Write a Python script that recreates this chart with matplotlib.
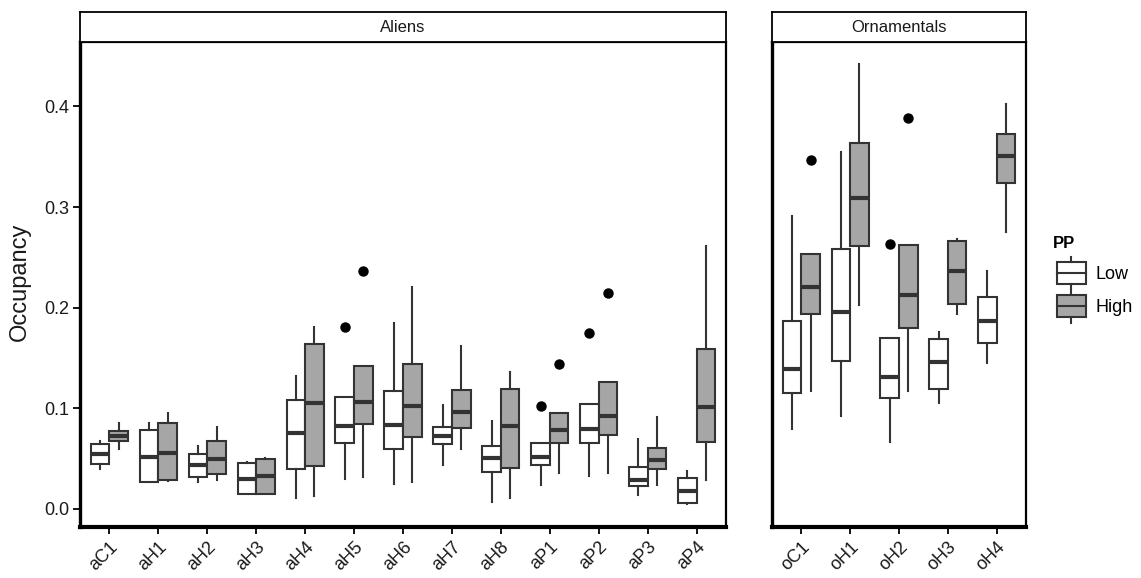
import matplotlib
matplotlib.use("Agg")
import matplotlib.pyplot as plt
from matplotlib.patches import Rectangle, Patch
from matplotlib.lines import Line2D
from matplotlib.legend_handler import HandlerBase

plt.rcParams['font.family'] = ['Liberation Sans', 'DejaVu Sans']

# sites in each facet
alien_sites = ['aC1', 'aH1', 'aH2', 'aH3', 'aH4', 'aH5', 'aH6',
               'aH7', 'aH8', 'aP1', 'aP2', 'aP3', 'aP4']
orn_sites = ['oC1', 'oH1', 'oH2', 'oH3', 'oH4']

# box summaries: (whisker low, q1, median, q3, whisker high)
alien_low = [
    (0.040, 0.045, 0.055, 0.064, 0.067),
    (0.027, 0.027, 0.052, 0.078, 0.085),
    (0.027, 0.032, 0.0435, 0.055, 0.0625),
    (0.015, 0.015, 0.030, 0.046, 0.047),
    (0.011, 0.040, 0.075, 0.108, 0.132),
    (0.030, 0.065, 0.082, 0.111, 0.111),
    (0.025, 0.060, 0.083, 0.117, 0.185),
    (0.044, 0.064, 0.0725, 0.081, 0.103),
    (0.007, 0.037, 0.051, 0.0625, 0.087),
    (0.024, 0.0435, 0.052, 0.065, 0.065),
    (0.033, 0.065, 0.079, 0.104, 0.104),
    (0.014, 0.0225, 0.029, 0.042, 0.069),
    (0.005, 0.006, 0.018, 0.031, 0.038),
]
alien_high = [
    (0.060, 0.067, 0.072, 0.077, 0.085),
    (0.028, 0.029, 0.056, 0.085, 0.095),
    (0.029, 0.035, 0.050, 0.067, 0.081),
    (0.015, 0.015, 0.033, 0.050, 0.051),
    (0.013, 0.0425, 0.105, 0.164, 0.181),
    (0.032, 0.084, 0.106, 0.142, 0.142),
    (0.027, 0.071, 0.102, 0.144, 0.221),
    (0.060, 0.080, 0.096, 0.118, 0.162),
    (0.011, 0.041, 0.082, 0.119, 0.136),
    (0.0356, 0.0656, 0.078, 0.0957, 0.0957),
    (0.036, 0.073, 0.092, 0.126, 0.126),
    (0.0235, 0.040, 0.049, 0.061, 0.091),
    (0.029, 0.066, 0.101, 0.159, 0.261),
]
orn_low = [
    (0.079, 0.115, 0.139, 0.187, 0.291),
    (0.092, 0.147, 0.196, 0.258, 0.355),
    (0.066, 0.110, 0.1315, 0.170, 0.170),
    (0.1056, 0.1195, 0.1457, 0.169, 0.176),
    (0.1446, 0.165, 0.1867, 0.2108, 0.236),
]
orn_high = [
    (0.117, 0.194, 0.221, 0.2535, 0.2535),
    (0.203, 0.261, 0.309, 0.364, 0.442),
    (0.117, 0.180, 0.2125, 0.262, 0.262),
    (0.1936, 0.2036, 0.236, 0.266, 0.268),
    (0.275, 0.3237, 0.351, 0.373, 0.402),
]

# outlying points
alien_low_out = {'aH5': [0.181], 'aP1': [0.102], 'aP2': [0.175]}
alien_high_out = {'aH5': [0.236], 'aP1': [0.144], 'aP2': [0.2145]}
orn_low_out = {'oH2': [0.263]}
orn_high_out = {'oC1': [0.3465], 'oH2': [0.388]}

groups = ['Low', 'High']
fills = {'Low': 'white', 'High': '#A6A6A6'}
edge = '#333333'
text_col = '#1a1a1a'

W, H = 1141, 578


def make_stats(sites, summary, outliers):
    return [dict(whislo=s[0], q1=s[1], med=s[2], q3=s[3], whishi=s[4],
                 fliers=outliers.get(site, []))
            for site, s in zip(sites, summary)]


def draw_panel(ax, sites, low, high, low_out, high_out):
    pos = list(range(1, len(sites) + 1))
    for stats, shift, g in [(make_stats(sites, low, low_out), -0.19, 'Low'),
                            (make_stats(sites, high, high_out), 0.19, 'High')]:
        ax.bxp(stats, positions=[p + shift for p in pos], widths=0.38,
               patch_artist=True, showcaps=False,
               boxprops=dict(facecolor=fills[g], edgecolor=edge, linewidth=1.5),
               whiskerprops=dict(color=edge, linewidth=1.5),
               medianprops=dict(color=edge, linewidth=3),
               flierprops=dict(marker='o', markerfacecolor='black',
                               markeredgecolor='black', markersize=6.5))
    ax.set_xlim(0.4, len(sites) + 0.6)
    ax.set_ylim(-0.018, 0.464)
    ax.set_xticks(pos)
    ax.set_xticklabels(sites, rotation=45, ha='right', va='top',
                       rotation_mode='anchor', fontsize=13, color=text_col)
    ax.tick_params(axis='both', length=5, width=1.3, color='black', pad=3)
    for side in ['top', 'right']:
        ax.spines[side].set_linewidth(1.6)
    ax.spines['left'].set_linewidth(2.4)
    ax.spines['bottom'].set_linewidth(3.0)


def add_strip(fig, rect, label):
    sax = fig.add_axes(rect)
    sax.set_xticks([])
    sax.set_yticks([])
    for sp in sax.spines.values():
        sp.set_linewidth(1.3)
    sax.text(0.5, 0.5, label, ha='center', va='center', fontsize=12,
             transform=sax.transAxes, color=text_col)


class BoxKey(HandlerBase):
    # boxplot-style legend key: box fills the handle, whisker stubs stick out
    def create_artists(self, legend, orig_handle, xdescent, ydescent,
                       width, height, fontsize, trans):
        x0, y0 = -xdescent, -ydescent
        stub = 0.25 * height
        box = Rectangle((x0 + 0.1 * width, y0), 0.8 * width, height,
                        facecolor=orig_handle.get_facecolor(),
                        edgecolor=edge, linewidth=1.5, transform=trans)
        med = Line2D([x0 + 0.1 * width, x0 + 0.9 * width],
                     [y0 + 0.5 * height] * 2, color=edge, linewidth=1.5,
                     transform=trans)
        wlo = Line2D([x0 + 0.5 * width] * 2, [y0 - stub, y0],
                     color=edge, linewidth=1.5, transform=trans)
        whi = Line2D([x0 + 0.5 * width] * 2, [y0 + height, y0 + height + stub],
                     color=edge, linewidth=1.5, transform=trans)
        return [box, med, wlo, whi]


fig = plt.figure(figsize=(W / 100, H / 100), dpi=100)

top, bottom = 42, 527
ax1 = fig.add_axes([80 / W, 1 - bottom / H, 646 / W, (bottom - top) / H])
ax2 = fig.add_axes([772 / W, 1 - bottom / H, 254 / W, (bottom - top) / H])

draw_panel(ax1, alien_sites, alien_low, alien_high, alien_low_out, alien_high_out)
draw_panel(ax2, orn_sites, orn_low, orn_high, orn_low_out, orn_high_out)

ax1.set_yticks([0.0, 0.1, 0.2, 0.3, 0.4])
ax1.set_yticklabels(['0.0', '0.1', '0.2', '0.3', '0.4'], fontsize=13, color=text_col)
ax2.set_yticks([0.0, 0.1, 0.2, 0.3, 0.4])
ax2.tick_params(axis='y', left=False, labelleft=False)

add_strip(fig, [80 / W, 1 - top / H, 646 / W, 30 / H], 'Aliens')
add_strip(fig, [772 / W, 1 - top / H, 254 / W, 30 / H], 'Ornamentals')

fig.text(20 / W, 1 - 282 / H, 'Occupancy', rotation=90, ha='center',
         va='center', fontsize=17, color=text_col)

handles = [Patch(facecolor=fills[g], edgecolor=edge) for g in groups]
leg = fig.legend(handles, groups, handler_map={Patch: BoxKey()},
                 loc='upper left', bbox_to_anchor=(1053 / W, 1 - 236 / H),
                 frameon=False, fontsize=13, title='PP',
                 title_fontproperties={'weight': 'bold', 'size': 12},
                 alignment='left', borderpad=0, borderaxespad=0,
                 handlelength=2.0, handleheight=1.47, labelspacing=0.63,
                 handletextpad=0.35)

fig.savefig('out.png', dpi=100)
